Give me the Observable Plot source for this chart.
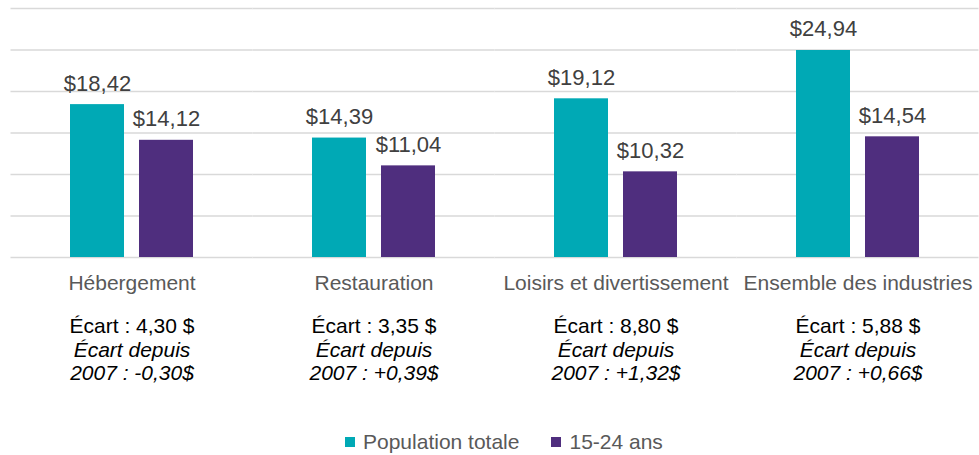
<!DOCTYPE html>
<html>
<head>
<meta charset="utf-8">
<script src="https://cdn.jsdelivr.net/npm/d3@7"></script>
<script src="https://cdn.jsdelivr.net/npm/@observablehq/plot@0.6"></script>
<style>
  html, body { margin: 0; padding: 0; background: #fff; }
  #chart { width: 979px; }
  .lg-swatches { font-family: "Liberation Sans", Arial, sans-serif !important; font-size: 21px !important; color: #595959 !important;
    display: flex !important; align-items: center !important; min-height: 0 !important; height: 27px; margin: 0 !important; padding-left: 345px; }
  .lg-swatch { margin-right: 32px !important; }
  .lg-swatch > svg { margin-right: 8px !important; }
</style>
</head>
<body>
<div id="chart"></div>
<script>
const categories = ["Hébergement", "Restauration", "Loisirs et divertissement", "Ensemble des industries"];
const series = ["Population totale", "15-24 ans"];
const popTotale = [18.42, 14.39, 19.12, 24.94];
const jeunes = [14.12, 11.04, 10.32, 14.54];
const ecarts = ["Écart : 4,30 $", "Écart : 3,35 $", "Écart : 8,80 $", "Écart : 5,88 $"];
const ecartsDepuis2007 = ["-0,30$", "+0,39$", "+1,32$", "+0,66$"];
const yTicks = [0, 5, 10, 15, 20, 25, 30];
const colors = ["#00A9B5", "#4F2E7E"];

const rows = [];
categories.forEach((c, i) => {
  rows.push({category: c, series: series[0], value: popTotale[i]});
  rows.push({category: c, series: series[1], value: jeunes[i]});
});
const notes = categories.map((c, i) => ({
  category: c,
  ecart: ecarts[i],
  depuis: "Écart depuis\n2007 : " + ecartsDepuis2007[i]
}));
const fmt = v => "$" + v.toFixed(2).replace(".", ",");
const font = "'Liberation Sans', Arial, sans-serif";

const chart = Plot.plot({
  width: 979,
  height: 428,
  marginLeft: 11,
  marginRight: 0,
  marginTop: 8,
  marginBottom: 171,
  style: {fontFamily: font, fontSize: "21px", color: "#595959", background: "#fff"},
  fx: {domain: categories, paddingInner: 0.4917, paddingOuter: 0.24585, axis: "bottom", tickSize: 0, tickPadding: 18, label: null},
  x: {domain: series, paddingInner: 0.2174, paddingOuter: 0, axis: null},
  y: {domain: [0, 30], axis: null},
  color: {domain: series, range: colors},
  marks: [
    Plot.ruleY(yTicks, {y: d => d, stroke: "#d9d9d9", strokeWidth: 1.3, insetLeft: -59.5, insetRight: -59.5}),
    Plot.barY(rows, {fx: "category", x: "series", y: "value", fill: "series"}),
    Plot.text(rows, {fx: "category", x: "series", y: "value", text: d => fmt(d.value), lineAnchor: "bottom", dy: -14, fill: "#404040", fontSize: 22}),
    Plot.text(notes, {fx: "category", text: "ecart", frameAnchor: "bottom", lineAnchor: "top", dy: 60.6, fill: "#000", fontSize: 21}),
    Plot.text(notes, {fx: "category", text: "depuis", frameAnchor: "bottom", lineAnchor: "top", dy: 82.3, lineHeight: 1.12, fill: "#000", fontSize: 21, fontStyle: "italic"})
  ]
});

const legend = Plot.legend({
  color: {domain: series, range: colors},
  swatchSize: 10,
  className: "lg"
});

const root = document.getElementById("chart");
root.appendChild(chart);
root.appendChild(legend);
</script>
</body>
</html>
